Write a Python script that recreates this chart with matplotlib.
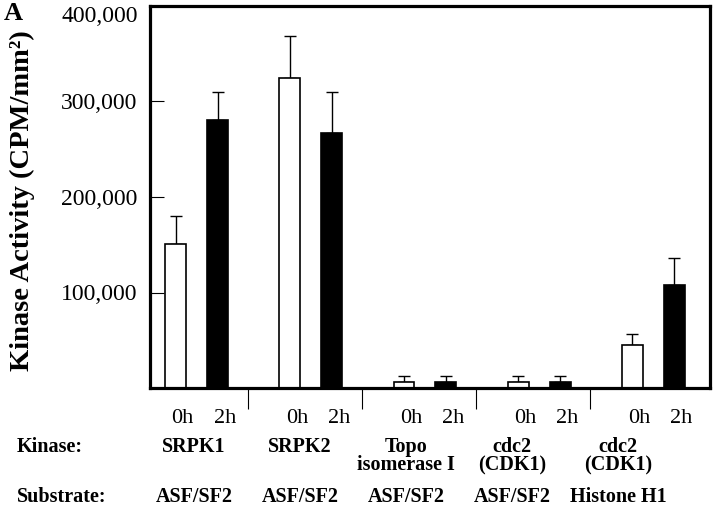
import numpy as np
import matplotlib.pyplot as plt
from matplotlib.transforms import blended_transform_factory

plt.rcParams['font.family'] = ['Liberation Serif', 'DejaVu Serif']

kinases = ["SRPK1", "SRPK2", "Topo\nisomerase I", "cdc2\n(CDK1)", "cdc2\n(CDK1)"]
substrates = ["ASF/SF2", "ASF/SF2", "ASF/SF2", "ASF/SF2", "Histone H1"]
times = ["0h", "2h"]

# kinase activity (CPM/mm^2), mean and upper error
act_0h = [151000, 325000, 6000, 6000, 45000]
act_2h = [281000, 267000, 6000, 6000, 108000]
err_0h = [29000, 44000, 7000, 7000, 12000]
err_2h = [29000, 43000, 7000, 7000, 28000]

yticks = [100000, 200000, 300000, 400000]

fig = plt.figure(figsize=(7.2, 5.16), dpi=100)
ax = fig.add_axes([150/720, 1 - 388/516, 560/720, 382/516])

x = np.arange(len(kinases))
w = 0.184
off = 0.184

ax.bar(x - off, act_0h, w, color='white', edgecolor='black', linewidth=1.2, zorder=2)
ax.bar(x + off, act_2h, w, color='black', edgecolor='black', linewidth=1.2, zorder=2)
ax.errorbar(x - off, act_0h, yerr=[np.zeros(5), err_0h], fmt='none', ecolor='black',
            elinewidth=1, capsize=4, capthick=1, zorder=1)
ax.errorbar(x + off, act_2h, yerr=[np.zeros(5), err_2h], fmt='none', ecolor='black',
            elinewidth=1, capsize=4, capthick=1, zorder=1)

ax.set_xlim(-0.411, 4.499)
ax.set_ylim(0, 400000)

for s in ax.spines.values():
    s.set_linewidth(2.3)

ax.set_yticks(yticks)
ax.set_yticklabels([f"{v:,}" for v in yticks], fontsize=17)
ax.tick_params(axis='y', direction='in', length=10, width=0.8, pad=9)
ax.get_yticklabels()[-1].set_va('top')

ax.set_xticks([])
ax.set_xticks(x[:-1] + 0.45, minor=True)
ax.tick_params(axis='x', which='minor', direction='out', length=15, width=0.8)
ax.set_xticklabels([], minor=True)

fig.text(22/720, 1 - 201/516, "Kinase Activity (CPM/mm²)", rotation=90,
         ha='center', va='center', fontsize=20.5, fontweight='bold')

tr = blended_transform_factory(ax.transData, ax.transAxes)
for i in x:
    ax.text(i - off + 0.06, -0.08, times[0], transform=tr, ha='center', va='center', fontsize=16)
    ax.text(i + off + 0.06, -0.08, times[1], transform=tr, ha='center', va='center', fontsize=16)

fig.text(17/720, 1 - 447/516, "Kinase:", ha='left', va='center', fontsize=14.5, fontweight='bold')
fig.text(17/720, 1 - 497/516, "Substrate:", ha='left', va='center', fontsize=14.5, fontweight='bold')
for i in x:
    fx = (194 + 106*i) / 720
    fig.text(fx, 1 - 437/516, kinases[i], ha='center', va='top', fontsize=14.5,
             fontweight='bold', linespacing=0.9, multialignment='center')
    fig.text(fx, 1 - 497/516, substrates[i], ha='center', va='center', fontsize=14.5,
             fontweight='bold')

fig.text(4/720, 1 - 14/516, "A", ha='left', va='center', fontsize=19, fontweight='bold')

fig.savefig("out.png", dpi=100)
